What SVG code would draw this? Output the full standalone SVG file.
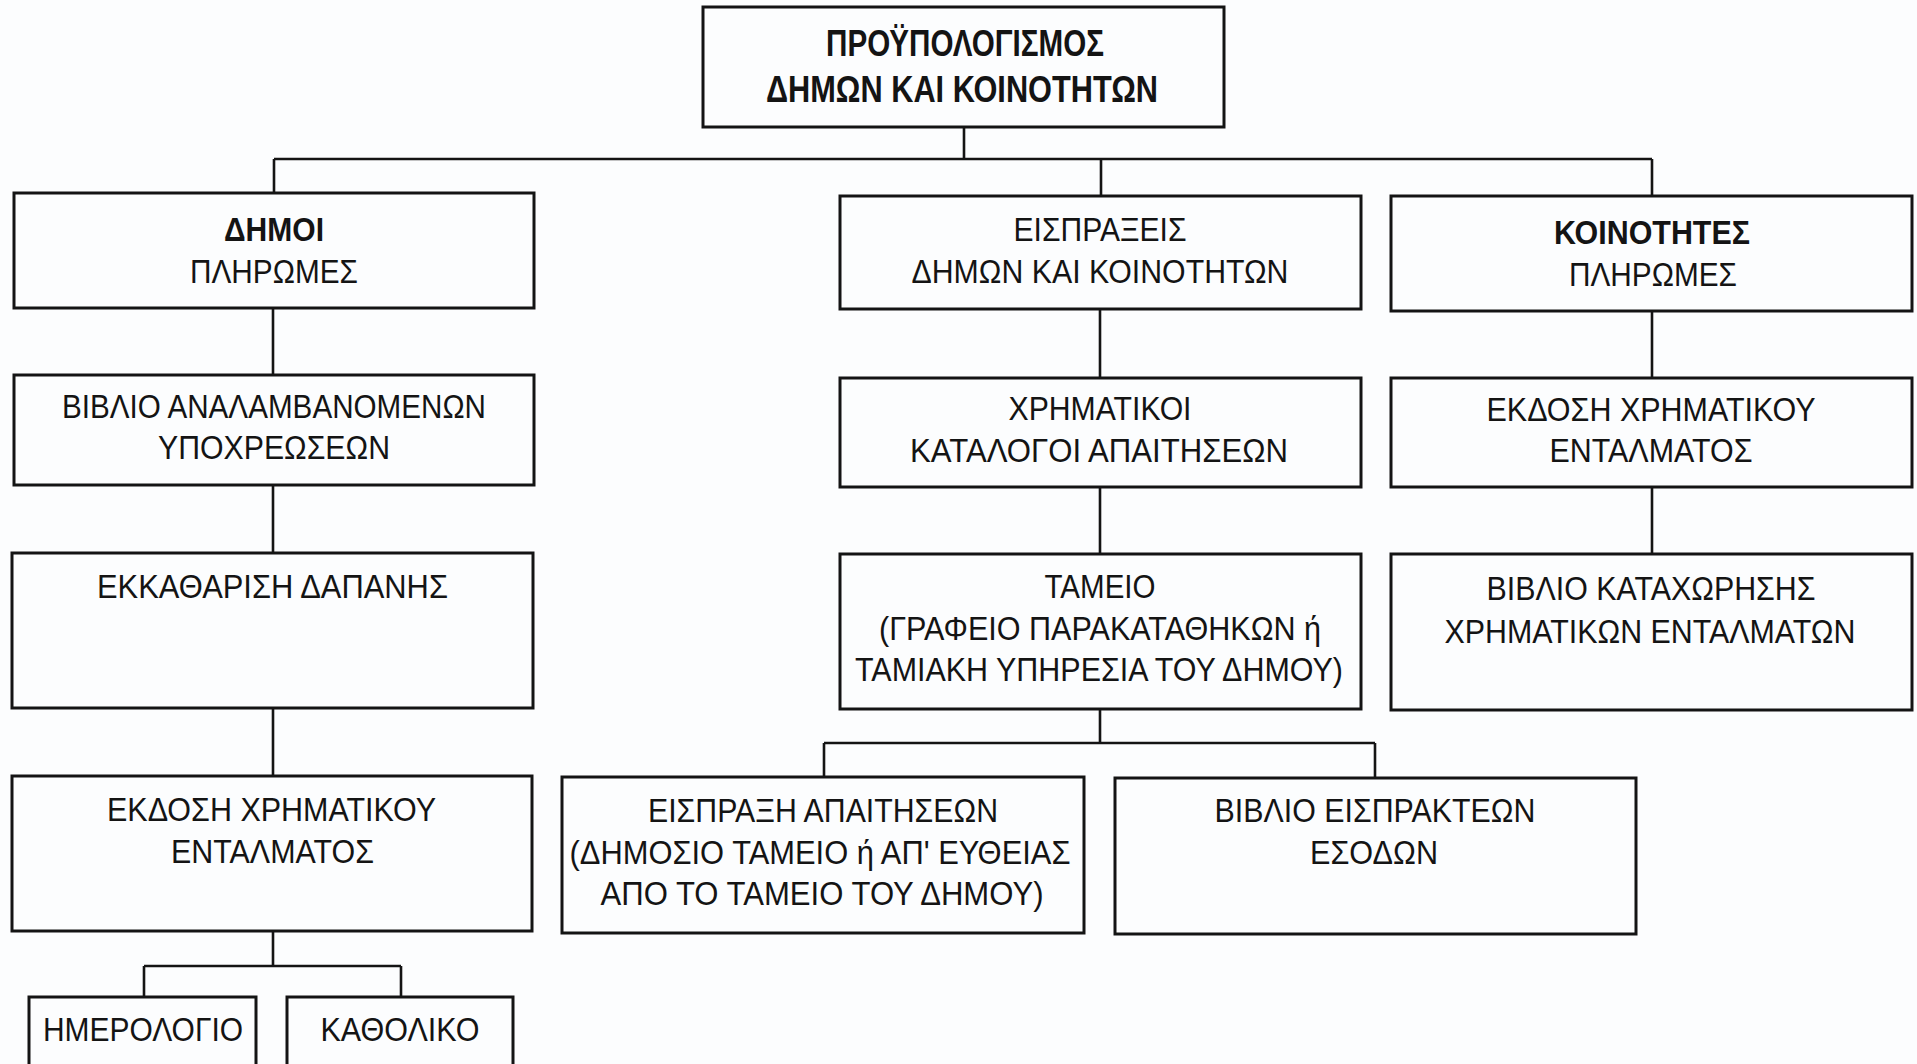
<svg xmlns="http://www.w3.org/2000/svg" width="1917" height="1064" viewBox="0 0 1917 1064">
<style>
.bg{fill:#fcfdfe}
.box{fill:none;stroke:#141414;stroke-width:3}
.con{fill:none;stroke:#141414;stroke-width:2.6}
text{font-family:"Liberation Sans",Arial,sans-serif;font-size:34px;fill:#141414;text-anchor:middle}
.b{font-weight:bold}
.t{font-size:36px}
</style>
<rect class="bg" x="0" y="0" width="1917" height="1064"/>
<g id="connectors">
<path class="con" d="M964,127V159M274,159H1652M274,159V193M1101,159V196M1652,159V196"/>
<path class="con" d="M273,308V375M273,485V553M273,708V776M273,931V966M144,966H401M144,966V997M401,966V997"/>
<path class="con" d="M1100,309V378M1100,487V554M1100,709V743M824,743H1375M824,743V777M1375,743V778"/>
<path class="con" d="M1652,311V378M1652,487V554"/>
</g>
<g id="n-top">
<rect class="box" x="703" y="7" width="521" height="120"/>
<text class="b t" x="965" y="56" textLength="278" lengthAdjust="spacingAndGlyphs">ΠΡΟΫΠΟΛΟΓΙΣΜΟΣ</text>
<text class="b t" x="962" y="102" textLength="392" lengthAdjust="spacingAndGlyphs">ΔΗΜΩΝ ΚΑΙ ΚΟΙΝΟΤΗΤΩΝ</text>
</g>
<g id="n-dhmoi">
<rect class="box" x="14" y="193" width="520" height="115"/>
<text class="b" x="274" y="241" textLength="100" lengthAdjust="spacingAndGlyphs">ΔΗΜΟΙ</text>
<text x="274" y="283" textLength="168" lengthAdjust="spacingAndGlyphs">ΠΛΗΡΩΜΕΣ</text>
</g>
<g id="n-biblio-anal">
<rect class="box" x="14" y="375" width="520" height="110"/>
<text x="274" y="418" textLength="424" lengthAdjust="spacingAndGlyphs">ΒΙΒΛΙΟ ΑΝΑΛΑΜΒΑΝΟΜΕΝΩΝ</text>
<text x="274" y="459" textLength="232" lengthAdjust="spacingAndGlyphs">ΥΠΟΧΡΕΩΣΕΩΝ</text>
</g>
<g id="n-ekkatharisi">
<rect class="box" x="12" y="553" width="521" height="155"/>
<text x="272.5" y="598" textLength="351" lengthAdjust="spacingAndGlyphs">ΕΚΚΑΘΑΡΙΣΗ  ΔΑΠΑΝΗΣ</text>
</g>
<g id="n-ekdosi-left">
<rect class="box" x="12" y="776" width="520" height="155"/>
<text x="271.5" y="821" textLength="329" lengthAdjust="spacingAndGlyphs">ΕΚΔΟΣΗ ΧΡΗΜΑΤΙΚΟΥ</text>
<text x="272.5" y="863" textLength="203" lengthAdjust="spacingAndGlyphs">ΕΝΤΑΛΜΑΤΟΣ</text>
</g>
<g id="n-hmerologio">
<rect class="box" x="29" y="997" width="227" height="95"/>
<text x="143" y="1041" textLength="200" lengthAdjust="spacingAndGlyphs">ΗΜΕΡΟΛΟΓΙΟ</text>
</g>
<g id="n-katholiko">
<rect class="box" x="287" y="997" width="226" height="95"/>
<text x="400" y="1041" textLength="159" lengthAdjust="spacingAndGlyphs">ΚΑΘΟΛΙΚΟ</text>
</g>
<g id="n-eispraxeis">
<rect class="box" x="840" y="196" width="521" height="113"/>
<text x="1100" y="241" textLength="173" lengthAdjust="spacingAndGlyphs">ΕΙΣΠΡΑΞΕΙΣ</text>
<text x="1100" y="283" textLength="377" lengthAdjust="spacingAndGlyphs">ΔΗΜΩΝ ΚΑΙ ΚΟΙΝΟΤΗΤΩΝ</text>
</g>
<g id="n-xrimatikoi">
<rect class="box" x="840" y="378" width="521" height="109"/>
<text x="1100" y="420" textLength="183" lengthAdjust="spacingAndGlyphs">ΧΡΗΜΑΤΙΚΟΙ</text>
<text x="1099" y="462" textLength="378" lengthAdjust="spacingAndGlyphs">ΚΑΤΑΛΟΓΟΙ  ΑΠΑΙΤΗΣΕΩΝ</text>
</g>
<g id="n-tameio">
<rect class="box" x="840" y="554" width="521" height="155"/>
<text x="1100" y="598" textLength="111" lengthAdjust="spacingAndGlyphs">ΤΑΜΕΙΟ</text>
<text x="1100" y="640" textLength="442" lengthAdjust="spacingAndGlyphs">(ΓΡΑΦΕΙΟ ΠΑΡΑΚΑΤΑΘΗΚΩΝ ή</text>
<text x="1099" y="681" textLength="488" lengthAdjust="spacingAndGlyphs">ΤΑΜΙΑΚΗ ΥΠΗΡΕΣΙΑ ΤΟΥ ΔΗΜΟΥ)</text>
</g>
<g id="n-eispraxi-apait">
<rect class="box" x="562" y="777" width="522" height="156"/>
<text x="823" y="822" textLength="350" lengthAdjust="spacingAndGlyphs">ΕΙΣΠΡΑΞΗ ΑΠΑΙΤΗΣΕΩΝ</text>
<text x="820" y="864" textLength="501" lengthAdjust="spacingAndGlyphs">(ΔΗΜΟΣΙΟ ΤΑΜΕΙΟ ή ΑΠ' ΕΥΘΕΙΑΣ</text>
<text x="822" y="905" textLength="443" lengthAdjust="spacingAndGlyphs">ΑΠΟ ΤΟ ΤΑΜΕΙΟ ΤΟΥ ΔΗΜΟΥ)</text>
</g>
<g id="n-biblio-eisprakt">
<rect class="box" x="1115" y="778" width="521" height="156"/>
<text x="1375" y="822" textLength="321" lengthAdjust="spacingAndGlyphs">ΒΙΒΛΙΟ ΕΙΣΠΡΑΚΤΕΩΝ</text>
<text x="1374" y="864" textLength="128" lengthAdjust="spacingAndGlyphs">ΕΣΟΔΩΝ</text>
</g>
<g id="n-koinotites">
<rect class="box" x="1391" y="196" width="521" height="115"/>
<text class="b" x="1652" y="244" textLength="196" lengthAdjust="spacingAndGlyphs">ΚΟΙΝΟΤΗΤΕΣ</text>
<text x="1653" y="286" textLength="168" lengthAdjust="spacingAndGlyphs">ΠΛΗΡΩΜΕΣ</text>
</g>
<g id="n-ekdosi-right">
<rect class="box" x="1391" y="378" width="521" height="109"/>
<text x="1651" y="421" textLength="329" lengthAdjust="spacingAndGlyphs">ΕΚΔΟΣΗ ΧΡΗΜΑΤΙΚΟΥ</text>
<text x="1651" y="462" textLength="203" lengthAdjust="spacingAndGlyphs">ΕΝΤΑΛΜΑΤΟΣ</text>
</g>
<g id="n-biblio-katax">
<rect class="box" x="1391" y="554" width="521" height="156"/>
<text x="1651" y="600" textLength="329" lengthAdjust="spacingAndGlyphs">ΒΙΒΛΙΟ ΚΑΤΑΧΩΡΗΣΗΣ</text>
<text x="1650" y="643" textLength="411" lengthAdjust="spacingAndGlyphs">ΧΡΗΜΑΤΙΚΩΝ ΕΝΤΑΛΜΑΤΩΝ</text>
</g>
</svg>
